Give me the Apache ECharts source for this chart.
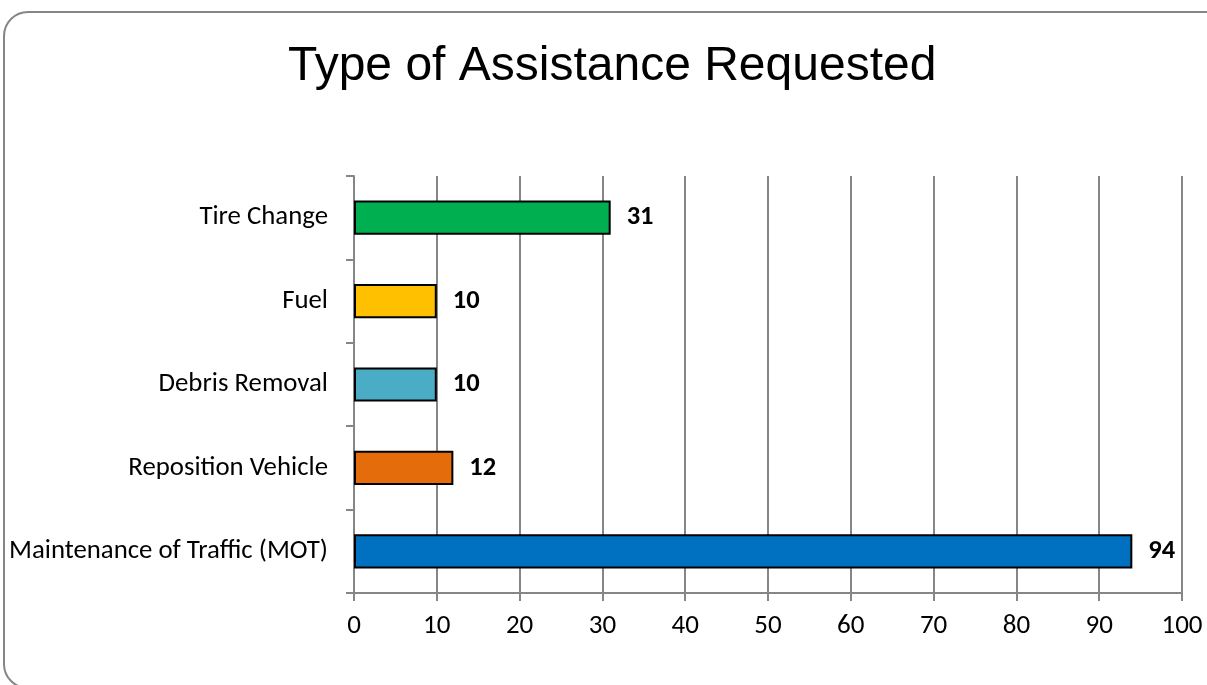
<!DOCTYPE html>
<html>
<head>
<meta charset="utf-8">
<script src="https://cdn.jsdelivr.net/npm/echarts@6/dist/echarts.min.js"></script>
<style>
html,body{margin:0;padding:0;background:#fff;}
#chart{width:1207px;height:685px;}
</style>
</head>
<body>
<div id="chart"></div>
<script>
const categories = ["Maintenance of Traffic (MOT)", "Reposition Vehicle", "Debris Removal", "Fuel", "Tire Change"];
const values = [94, 12, 10, 10, 31];
const barColors = ["#0070C0", "#E46C0A", "#4BACC6", "#FFC000", "#00B050"];
const xTicks = [0, 10, 20, 30, 40, 50, 60, 70, 80, 90, 100];

const chart = echarts.init(document.getElementById('chart'), null, {renderer: 'canvas'});
const labelFont = 'Carlito, "Open Sans", "Liberation Sans", sans-serif';
chart.setOption({
  animation: false,
  backgroundColor: '#fff',
  title: {
    text: 'Type of Assistance Requested',
    left: 283,
    top: 38,
    textStyle: {fontFamily: 'Liberation Sans, Arial, sans-serif', fontSize: 48, fontWeight: 'normal', color: '#000'}
  },
  graphic: [{
    type: 'rect',
    shape: {x: 4, y: 12, width: 1240, height: 676, r: 24},
    style: {fill: 'none', stroke: '#868686', lineWidth: 2},
    z: 100, silent: true
  }],
  grid: {left: 354, right: 25, top: 176, bottom: 92, containLabel: false},
  xAxis: {
    type: 'value', min: 0, max: 100, interval: 10,
    axisLine: {show: true, lineStyle: {color: '#868686', width: 2}},
    axisTick: {show: true, length: 8, lineStyle: {color: '#868686', width: 2}},
    splitLine: {show: true, lineStyle: {color: '#868686', width: 2}},
    axisLabel: {
      color: '#000', fontSize: 27, fontFamily: labelFont, margin: 20,
      formatter: function (v) { return xTicks.indexOf(v) >= 0 ? String(v) : ''; }
    }
  },
  yAxis: {
    type: 'category', data: categories,
    axisLine: {show: true, lineStyle: {color: '#868686', width: 2}},
    axisTick: {show: true, length: 8, lineStyle: {color: '#868686', width: 2}},
    axisLabel: {color: '#000', fontSize: 26.8, fontFamily: labelFont, margin: 26, padding: [4, 0, 0, 0]}
  },
  series: [{
    type: 'bar',
    barWidth: '41%',
    data: values.map((v, i) => ({value: v, itemStyle: {color: barColors[i]}})),
    itemStyle: {borderColor: '#000', borderWidth: 2},
    label: {
      show: true, position: 'right', distance: 16,
      color: '#000', fontSize: 26.5, fontWeight: 'bold', fontFamily: labelFont
    }
  }]
});
</script>
</body>
</html>
